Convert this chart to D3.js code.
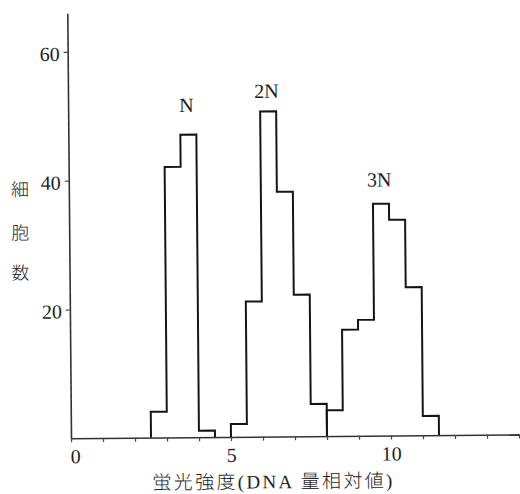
<!DOCTYPE html>
<html>
<head>
<meta charset="utf-8">
<script src="https://cdn.jsdelivr.net/npm/d3@7"></script>
<style>
  html, body { margin: 0; padding: 0; background: #fff; }
  svg { display: block; }
  text { fill: #1e1e1e; font-family: "Liberation Serif", "Times New Roman", "Noto Sans CJK JP", serif; font-weight: normal; }
</style>
</head>
<body>
<script>
// Fluorescence histogram: cell counts per 0.5-wide bin of relative DNA content
const binWidth = 0.5;
const peakLabels = ["N", "2N", "3N"];
const peakStarts = [2.5, 5.0, 8.0];
const countsN  = [4, 42, 47, 1];
const counts2N = [2, 21, 50.5, 38, 22, 5];
const counts3N = [4, 16.5, 18, 36, 33.5, 23, 3];
const peakCounts = [countsN, counts2N, counts3N];

const xTickValues = d3.range(0, 15);
const xTickLabels = [0, 5, 10];
const yTickValues = [20, 40, 60];
const yLabelChars = ["細", "胞", "数"];
const xTitle = "蛍光強度(DNA 量相対値)";

const W = 520, H = 494;
const originX = 71, originY = 438.3;
const unitX = 32, unitY = 6.44;
const serif = "'Liberation Serif', 'Times New Roman', serif";

const svg = d3.select("body").append("svg")
  .attr("width", W).attr("height", H);

const x = d3.scaleLinear().domain([0, 14]).range([originX, originX + 14 * unitX]);
const y = d3.scaleLinear().domain([0, 66]).range([originY, originY - 66 * unitY]);

// whole plot is set at a very slight tilt
const g = svg.append("g")
  .attr("transform", `rotate(-0.5, ${originX}, ${originY})`);

// x axis
const xAxis = g.append("g")
  .attr("transform", `translate(0,${originY})`)
  .call(d3.axisBottom(x)
    .tickValues(xTickValues)
    .tickSize(4)
    .tickSizeOuter(0)
    .tickFormat(d => xTickLabels.includes(d) ? d : ""));
xAxis.attr("font-family", null);
xAxis.select(".domain").attr("stroke", "#333").attr("stroke-width", 1.6);
xAxis.selectAll(".tick line").attr("stroke", "#444").attr("stroke-width", 1.2);
xAxis.selectAll(".tick text")
  .attr("y", 25).attr("dy", 0)
  .attr("dx", d => d === 0 ? 4 : 0)
  .style("font-size", "20px")
  .style("font-family", serif)
  .attr("fill", "#1e1e1e");

// y axis
const yAxis = g.append("g")
  .attr("transform", `translate(${originX},0)`)
  .call(d3.axisLeft(y)
    .tickValues(yTickValues)
    .tickSize(4)
    .tickSizeOuter(0)
    .tickPadding(4));
yAxis.attr("font-family", null);
yAxis.select(".domain").attr("stroke", "#333").attr("stroke-width", 1.6);
yAxis.selectAll(".tick line").attr("stroke", "#444").attr("stroke-width", 1.2);
yAxis.selectAll(".tick text")
  .attr("dy", "0.42em")
  .style("font-size", "20px")
  .style("font-family", serif)
  .attr("fill", "#1e1e1e");

// histogram outlines, one closed step path per peak
const line = d3.line().x(d => x(d[0])).y(d => y(d[1]));
peakCounts.forEach((counts, k) => {
  const s = peakStarts[k];
  const pts = [[s, 0]];
  counts.forEach((c, i) => {
    pts.push([s + i * binWidth, c]);
    pts.push([s + (i + 1) * binWidth, c]);
  });
  pts.push([s + counts.length * binWidth, 0]);
  g.append("path")
    .attr("d", line(pts))
    .attr("fill", "none")
    .attr("stroke", "#151515")
    .attr("stroke-width", 2)
    .attr("stroke-linejoin", "miter");
});

// peak labels
const labelPos = [[3.7, 50.5], [6.2, 52.6], [9.7, 38.7]];
g.selectAll(".peak-label")
  .data(peakLabels)
  .join("text")
  .attr("class", "peak-label")
  .attr("x", (d, i) => x(labelPos[i][0]))
  .attr("y", (d, i) => y(labelPos[i][1]))
  .attr("text-anchor", "middle")
  .style("font-size", "20px")
  .style("font-family", serif)
  .text(d => d);

// vertical y title
const yLabelCenters = [187.5, 231, 271];
g.selectAll(".ylab")
  .data(yLabelChars)
  .join("text")
  .attr("class", "ylab")
  .attr("x", 22)
  .attr("y", (d, i) => yLabelCenters[i])
  .attr("text-anchor", "middle")
  .attr("dominant-baseline", "central")
  .style("font-family", "'Noto Sans CJK JP', sans-serif")
  .style("font-size", "18px")
  .style("font-weight", 300)
  .text(d => d);

// x title
g.append("text")
  .attr("x", 152)
  .attr("y", 490)
  .attr("textLength", 240)
  .attr("lengthAdjust", "spacing")
  .style("font-size", "19px")
  .style("font-weight", 300)
  .text(xTitle);
</script>
</body>
</html>
